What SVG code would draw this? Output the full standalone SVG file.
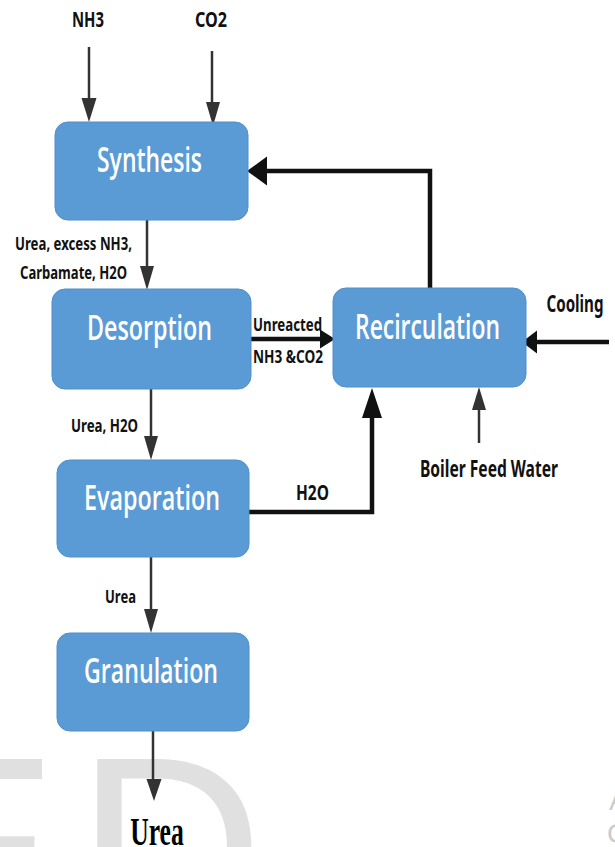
<svg xmlns="http://www.w3.org/2000/svg" width="615" height="847" viewBox="0 0 615 847">
<style>
.box{fill:#5b9bd5;stroke:#4f8fc9;stroke-width:1}
.bt{font-family:"Open Sans","Noto Sans",sans-serif;font-weight:600;font-size:23px;fill:#ffffff;text-anchor:middle}
.lbl{font-family:"Noto Sans","Open Sans",sans-serif;font-weight:bold;fill:#111;text-anchor:middle}
.thin{stroke:#333;stroke-width:2.5;fill:none}
.thinh{fill:#333}
.thick{stroke:#111;stroke-width:4.5;fill:none}
.thickh{fill:#111}
.wm{font-family:"Liberation Sans",sans-serif;fill:#e0e0e0}
.wm2{font-family:"Liberation Sans",sans-serif;fill:#cccccc;font-size:28px}
</style>
<rect width="615" height="847" fill="#ffffff"/>
<g id="watermark">
<text class="wm" x="-115" y="938" font-size="260">E</text>
<text class="wm" x="76" y="938" font-size="260">D</text>
<text class="wm2" x="609" y="810">A</text>
<text class="wm2" x="607" y="843">C</text>
</g>
<g id="connectors">
<line class="thin" x1="89" y1="47" x2="89" y2="100"/>
<polygon class="thinh" points="89,122 81.5,98 96.5,98"/>
<line class="thin" x1="212" y1="51" x2="212" y2="104"/>
<polygon class="thinh" points="213,126 206,102 220,102"/>
<line class="thin" x1="147" y1="218" x2="147" y2="268"/>
<polygon class="thinh" points="147,290 140,266 154,266"/>
<line class="thin" x1="151" y1="389" x2="151" y2="438"/>
<polygon class="thinh" points="151,460 144,436 158,436"/>
<line class="thin" x1="151" y1="557" x2="151" y2="612"/>
<polygon class="thinh" points="151,633 144,609 158,609"/>
<line class="thin" x1="153" y1="728" x2="153" y2="782"/>
<polygon class="thinh" points="154,801 146.5,779 161.5,779"/>
<line class="thin" x1="479" y1="443" x2="479" y2="407"/>
<polygon class="thinh" points="479,387 472,410 486,410"/>
<path class="thick" d="M430,290 V171 H264"/>
<polygon class="thickh" points="247,171 267,156.5 267,185.5"/>
<line class="thick" x1="250" y1="339" x2="322" y2="339"/>
<polygon class="thickh" points="335,339 320,329.5 320,348.5"/>
<line class="thick" x1="609" y1="342" x2="535" y2="342"/>
<polygon class="thickh" points="522,342 537,330.5 537,353.5"/>
<path class="thick" d="M249,512 H372 V415"/>
<polygon class="thickh" points="372,388 362,418 382,418"/>
</g>
<g id="synthesis">
<rect class="box" x="55" y="122" width="193" height="98" rx="13"/>
<text class="bt" transform="translate(149.5 172) scale(1 1.5)" textLength="105" lengthAdjust="spacingAndGlyphs">Synthesis</text>
</g>
<g id="desorption">
<rect class="box" x="52" y="289" width="199" height="100" rx="13"/>
<text class="bt" transform="translate(149.5 340) scale(1 1.5)" textLength="125" lengthAdjust="spacingAndGlyphs">Desorption</text>
</g>
<g id="recirculation">
<rect class="box" x="333" y="288" width="193" height="99" rx="13"/>
<text class="bt" transform="translate(427.5 339) scale(1 1.5)" textLength="145" lengthAdjust="spacingAndGlyphs">Recirculation</text>
</g>
<g id="evaporation">
<rect class="box" x="57" y="460" width="192" height="97" rx="13"/>
<text class="bt" transform="translate(152 510) scale(1 1.5)" textLength="136" lengthAdjust="spacingAndGlyphs">Evaporation</text>
</g>
<g id="granulation">
<rect class="box" x="57" y="633" width="192" height="98" rx="13"/>
<text class="bt" transform="translate(151 683) scale(1 1.5)" textLength="134" lengthAdjust="spacingAndGlyphs">Granulation</text>
</g>
<g id="labels">
<text class="lbl" font-size="14" transform="translate(88 27) scale(1 1.5)" textLength="32" lengthAdjust="spacingAndGlyphs">NH3</text>
<text class="lbl" font-size="14" transform="translate(211 27) scale(1 1.5)" textLength="32" lengthAdjust="spacingAndGlyphs">CO2</text>
<text class="lbl" font-size="11.5" transform="translate(73.5 250) scale(1 1.5)" textLength="117" lengthAdjust="spacingAndGlyphs">Urea, excess NH3,</text>
<text class="lbl" font-size="11.5" transform="translate(73.5 279) scale(1 1.5)" textLength="107" lengthAdjust="spacingAndGlyphs">Carbamate, H2O</text>
<text class="lbl" font-size="12" transform="translate(287.5 331) scale(1 1.5)" textLength="69" lengthAdjust="spacingAndGlyphs">Unreacted</text>
<text class="lbl" font-size="12" transform="translate(288 363) scale(1 1.5)" textLength="70" lengthAdjust="spacingAndGlyphs">NH3 &amp;CO2</text>
<text class="lbl" font-size="11.5" transform="translate(104.5 432) scale(1 1.5)" textLength="67" lengthAdjust="spacingAndGlyphs">Urea, H2O</text>
<text class="lbl" font-size="14" transform="translate(312.5 500) scale(1 1.5)" textLength="33" lengthAdjust="spacingAndGlyphs">H2O</text>
<text class="lbl" font-size="16" transform="translate(489 477) scale(1 1.5)" textLength="138" lengthAdjust="spacingAndGlyphs">Boiler Feed Water</text>
<text class="lbl" font-size="16" transform="translate(575 312) scale(1 1.5)" textLength="57" lengthAdjust="spacingAndGlyphs">Cooling</text>
<text class="lbl" font-size="12" transform="translate(120.5 603) scale(1 1.5)" textLength="31" lengthAdjust="spacingAndGlyphs">Urea</text>
<text font-family="Liberation Serif,serif" font-weight="bold" font-size="25.6" fill="#000" text-anchor="middle" transform="translate(157 845) scale(1 1.6)">Urea</text>
</g>
</svg>
